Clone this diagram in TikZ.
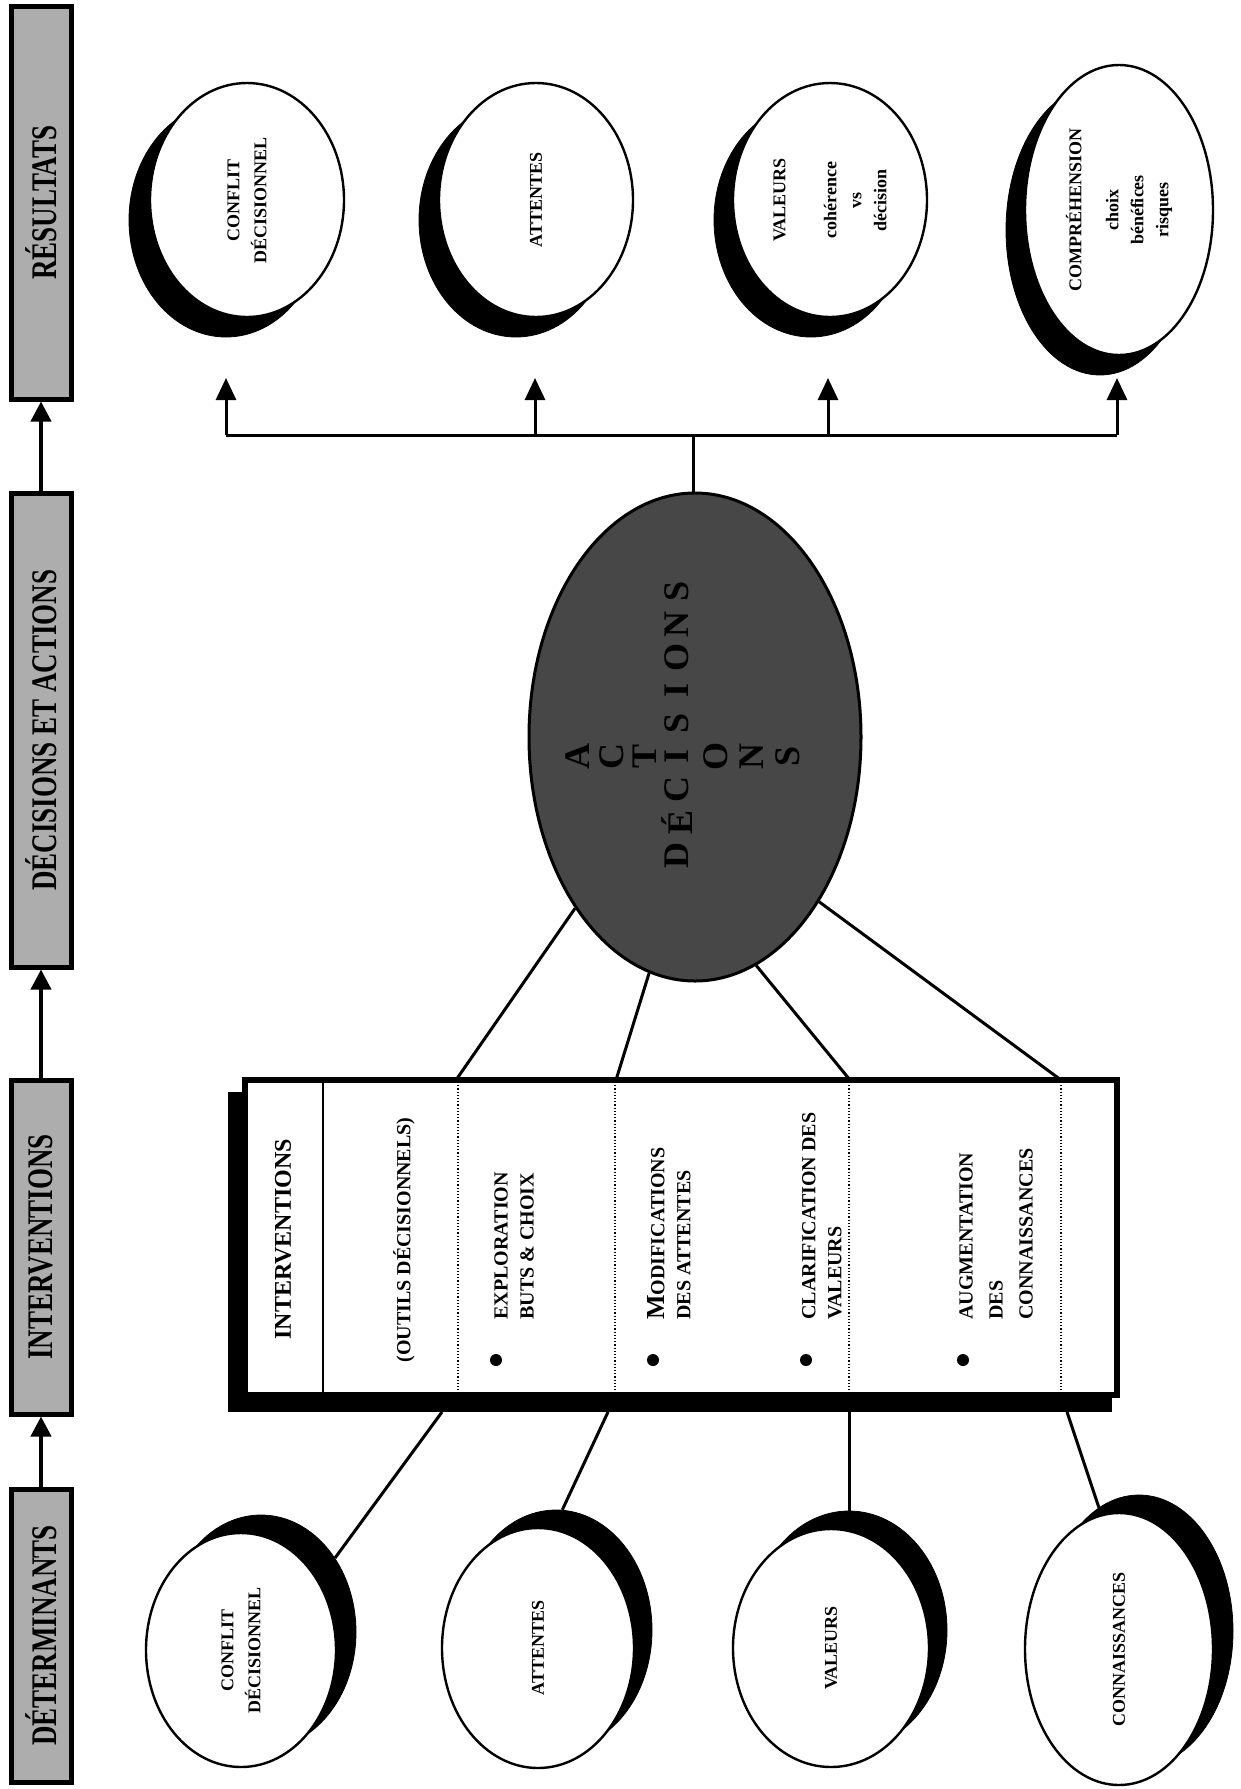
\documentclass[tikz,border=0pt]{standalone}
\usepackage{fontspec}
\setmainfont{Liberation Serif}
\usetikzlibrary{shapes.geometric,arrows.meta,calc}
\newcommand\hdrtext[1]{\scalebox{0.75}[1]{\fontsize{18}{18}\selectfont #1}}
\begin{document}
\begin{tikzpicture}[x=0.5pt,y=-0.5pt,
  hdr/.style={draw, line width=2.5pt, fill=black!32, rotate=90, minimum height=30pt, inner sep=0pt, font=\bfseries},
  harr/.style={line width=2pt, -{Triangle[width=10pt,length=10pt]}},
  arr/.style={line width=1.5pt, -{Triangle[width=10pt,length=11pt]}},
  conn/.style={line width=1.5pt},
  shad/.style={ellipse, fill=black, draw=black, inner sep=0pt},
  oval/.style={ellipse, fill=white, draw=black, line width=1.2pt, rotate=90, inner sep=0pt, align=center, font=\bfseries\fontsize{9}{12.5}\selectfont},
  centre/.style={ellipse, fill=black!72, draw=black, line width=1.5pt, inner sep=0pt},
  cletter/.style={rotate=90, inner sep=0pt, text=black, font=\bfseries\fontsize{18}{18}\selectfont},
  tabtxt/.style={rotate=90, anchor=west, align=left, inner sep=0pt, font=\bfseries\fontsize{10}{13}\selectfont},
  bul/.style={circle, fill=black, inner sep=0pt, minimum size=6pt}
]
\useasboundingbox (0,0) rectangle (1241,1789);

% ---- header column ----
\node[hdr, minimum width=196.5pt] (h1) at (41,202.5) {\hdrtext{RÉSULTATS}};
\node[hdr, minimum width=237pt] (h2) at (41,730) {\hdrtext{DÉCISIONS ET ACTIONS}};
\node[hdr, minimum width=167pt] (h3) at (41,1247) {\hdrtext{INTERVENTIONS}};
\node[hdr, minimum width=146.5pt] (h4) at (41,1635.5) {\hdrtext{DÉTERMINANTS}};
\draw[harr] (h4.east) -- (h3.west);
\draw[harr] (h3.east) -- (h2.west);
\draw[harr] (h2.east) -- (h1.west);

% ---- top row (résultats) ----
\node[shad, minimum width=97pt, minimum height=117pt] (r1s) at (226,220) {};
\node[oval, minimum width=117pt, minimum height=97pt] (r1) at (247,200) {CONFLIT\\[1pt]DÉCISIONNEL};
\node[shad, minimum width=97pt, minimum height=117pt] (r2s) at (516,220) {};
\node[oval, minimum width=117pt, minimum height=97pt] (r2) at (536,200) {ATTENTES};
\node[shad, minimum width=97pt, minimum height=117pt] (r3s) at (811,220) {};
\node[oval, minimum width=117pt, minimum height=97pt] (r3) at (830,200) {VALEURS\\[13pt]cohérence\\vs\\décision};
\node[shad, minimum width=94pt, minimum height=145pt] (r4s) at (1100,230) {};
\node[oval, minimum width=145pt, minimum height=94pt] (r4) at (1119,210) {COMPRÉHENSION\\[6pt]choix\\bénéfices\\risques};

% ---- central ellipse ----
\node[centre, minimum width=166pt, minimum height=244pt] (central) at (695,737) {};
\foreach \l/\yy [count=\i] in {D/855,É/822,C/789,I/756,S/723,I/690,O/657,N/624,S/591}
  \node[cletter] (cd\i) at (677,\yy) {\l};
\foreach \l/\xx [count=\i] in {A/578,C/612,T/645,O/716,N/752,S/788}
  \node[cletter] (ca\i) at (\xx,756) {\l};

% ---- bus to results ----
\coordinate (bus0) at (693,435);
\coordinate (bL) at (226,435);
\coordinate (bR) at (1117,435);
\coordinate (bA) at (535,435);
\coordinate (bB) at (828,435);
\coordinate (p1) at (226,378);
\coordinate (p2) at (535,378);
\coordinate (p3) at (828,378);
\coordinate (p4) at (1117,378);
\draw[conn] (central.north -| bus0) -- (bus0);
\draw[conn] (bL) -- (bR);
\draw[arr] (bL) -- (p1);
\draw[arr] (bA) -- (p2);
\draw[arr] (bB) -- (p3);
\draw[arr] (bR) -- (p4);

% ---- interventions table ----
\node[rectangle, fill=black, inner sep=0pt, minimum width=442pt, minimum height=160pt] (tabs) at (670,1252) {};
\node[rectangle, fill=white, draw=black, line width=3pt, inner sep=0pt, minimum width=436pt, minimum height=157.5pt] (tab) at (681,1237.5) {};
\draw[line width=0.8pt] (323,1082) -- (323,1393);
\foreach \xx in {458,615,849,1061}
  \draw[line width=0.6pt, densely dotted] (\xx,1082) -- (\xx,1393);

\node[tabtxt, font=\bfseries\fontsize{12}{14}\selectfont] (ti) at (283,1340) {INTERVENTIONS};
\node[tabtxt] (to) at (404,1363) {(OUTILS DÉCISIONNELS)};
\node[tabtxt] (te) at (514,1320) {EXPLORATION\\BUTS \& CHOIX};
\node[tabtxt] (tm) at (669,1320) {{\fontsize{13}{13}\selectfont M}ODIFICATIONS\\DES ATTENTES};
\node[tabtxt] (tc) at (822,1320) {CLARIFICATION DES\\VALEURS};
\node[tabtxt, font=\bfseries\fontsize{10}{15}\selectfont] (ta) at (996,1320) {AUGMENTATION\\DES\\CONNAISSANCES};
\node[bul] (b1) at (496,1360) {};
\node[bul] (b2) at (653,1360) {};
\node[bul] (b3) at (806,1360) {};
\node[bul] (b4) at (963,1360) {};

% connectors central -> table
\coordinate (t1) at (456,1080);
\coordinate (t2) at (616,1080);
\coordinate (t3) at (850,1080);
\coordinate (t4) at (1061,1080);
\draw[conn] (central.-125.2) -- (t1);
\draw[conn] (central.-101) -- (t2);
\draw[conn] (central.-75.4) -- (t3);
\draw[conn] (central.-53.1) -- (t4);

% ---- bottom row (déterminants) ----
\node[shad, minimum width=95pt, minimum height=117pt] (d1s) at (261,1632) {};
\node[oval, minimum width=117pt, minimum height=95pt] (d1) at (241,1650) {CONFLIT\\[1pt]DÉCISIONNEL};
\node[shad, minimum width=96pt, minimum height=120pt] (d2s) at (556,1630) {};
\node[oval, minimum width=120pt, minimum height=96pt] (d2) at (538,1648) {ATTENTES};
\node[shad, minimum width=98pt, minimum height=119pt] (d3s) at (849,1630) {};
\node[oval, minimum width=119pt, minimum height=98pt] (d3) at (831,1648) {VALEURS};
\node[shad, minimum width=94pt, minimum height=136pt] (d4s) at (1139,1631) {};
\node[oval, minimum width=136pt, minimum height=94pt] (d4) at (1119,1649) {CONNAISSANCES};

\coordinate (u1) at (442,1412);
\coordinate (u2) at (608,1412);
\coordinate (u3) at (849,1412);
\coordinate (u4) at (1067,1412);
\draw[conn] (u1) -- (d1s.45);
\draw[conn] (u2) -- (d2s.87);
\draw[conn] (u3) -- (d3s.90);
\draw[conn] (u4) -- (d4s.108);
\end{tikzpicture}
\end{document}
